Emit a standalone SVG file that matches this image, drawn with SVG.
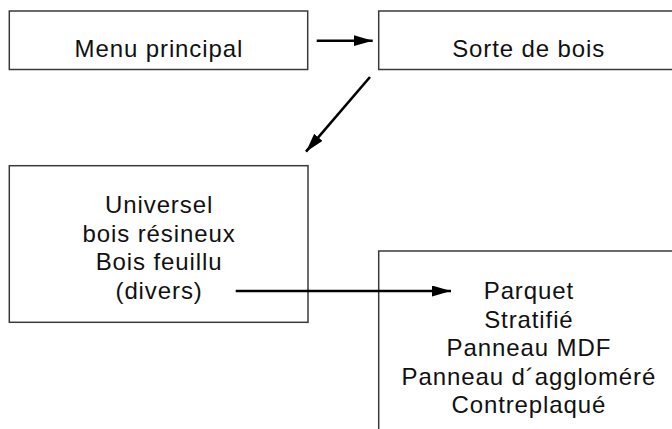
<svg xmlns="http://www.w3.org/2000/svg" width="672" height="429" viewBox="0 0 672 429">
  <style>
    .box { fill: #ffffff; stroke: #3a3a3a; stroke-width: 1.5; }
    .lbl { font-family: "Liberation Sans", Arial, sans-serif; font-size: 24px; letter-spacing: 0.9px; fill: #111111; text-anchor: middle; }
    .conn { stroke: #000000; stroke-width: 2.6; fill: none; marker-end: url(#ah); }
  </style>
  <defs>
    <marker id="ah" markerUnits="userSpaceOnUse" markerWidth="20" markerHeight="12" refX="19" refY="5.5" orient="auto">
      <path d="M0,0 L19,5.5 L0,11 z" fill="#000000"/>
    </marker>
  </defs>
  <rect width="672" height="429" fill="#ffffff"/>
  <g id="menu-principal">
    <rect class="box" x="9.3" y="11" width="298.4" height="58.5"/>
    <text class="lbl" x="158.9" y="57.3">Menu principal</text>
  </g>
  <g id="sorte-de-bois">
    <rect class="box" x="378.7" y="11" width="320" height="58.5"/>
    <text class="lbl" x="528.7" y="57.3">Sorte de bois</text>
  </g>
  <g id="types-bois">
    <rect class="box" x="9.3" y="165.7" width="298.7" height="156.6"/>
    <text class="lbl" x="159.1" y="213.3">Universel</text>
    <text class="lbl" x="159.1" y="241.8">bois résineux</text>
    <text class="lbl" x="159.1" y="270.3">Bois feuillu</text>
    <text class="lbl" x="159.1" y="298.8">(divers)</text>
  </g>
  <g id="produits">
    <rect class="box" x="378.7" y="251" width="320" height="200"/>
    <text class="lbl" x="528.9" y="299.3">Parquet</text>
    <text class="lbl" x="528.9" y="327.8">Stratifié</text>
    <text class="lbl" x="528.9" y="356.3">Panneau MDF</text>
    <text class="lbl" x="528.9" y="384.8">Panneau d´aggloméré</text>
    <text class="lbl" x="528.9" y="413.3">Contreplaqué</text>
  </g>
  <g id="connectors">
    <line class="conn" x1="316.7" y1="40.7" x2="372.7" y2="40.7"/>
    <line class="conn" x1="370" y1="77" x2="306" y2="151.7"/>
    <line class="conn" x1="235.7" y1="291" x2="451" y2="291"/>
  </g>
</svg>
